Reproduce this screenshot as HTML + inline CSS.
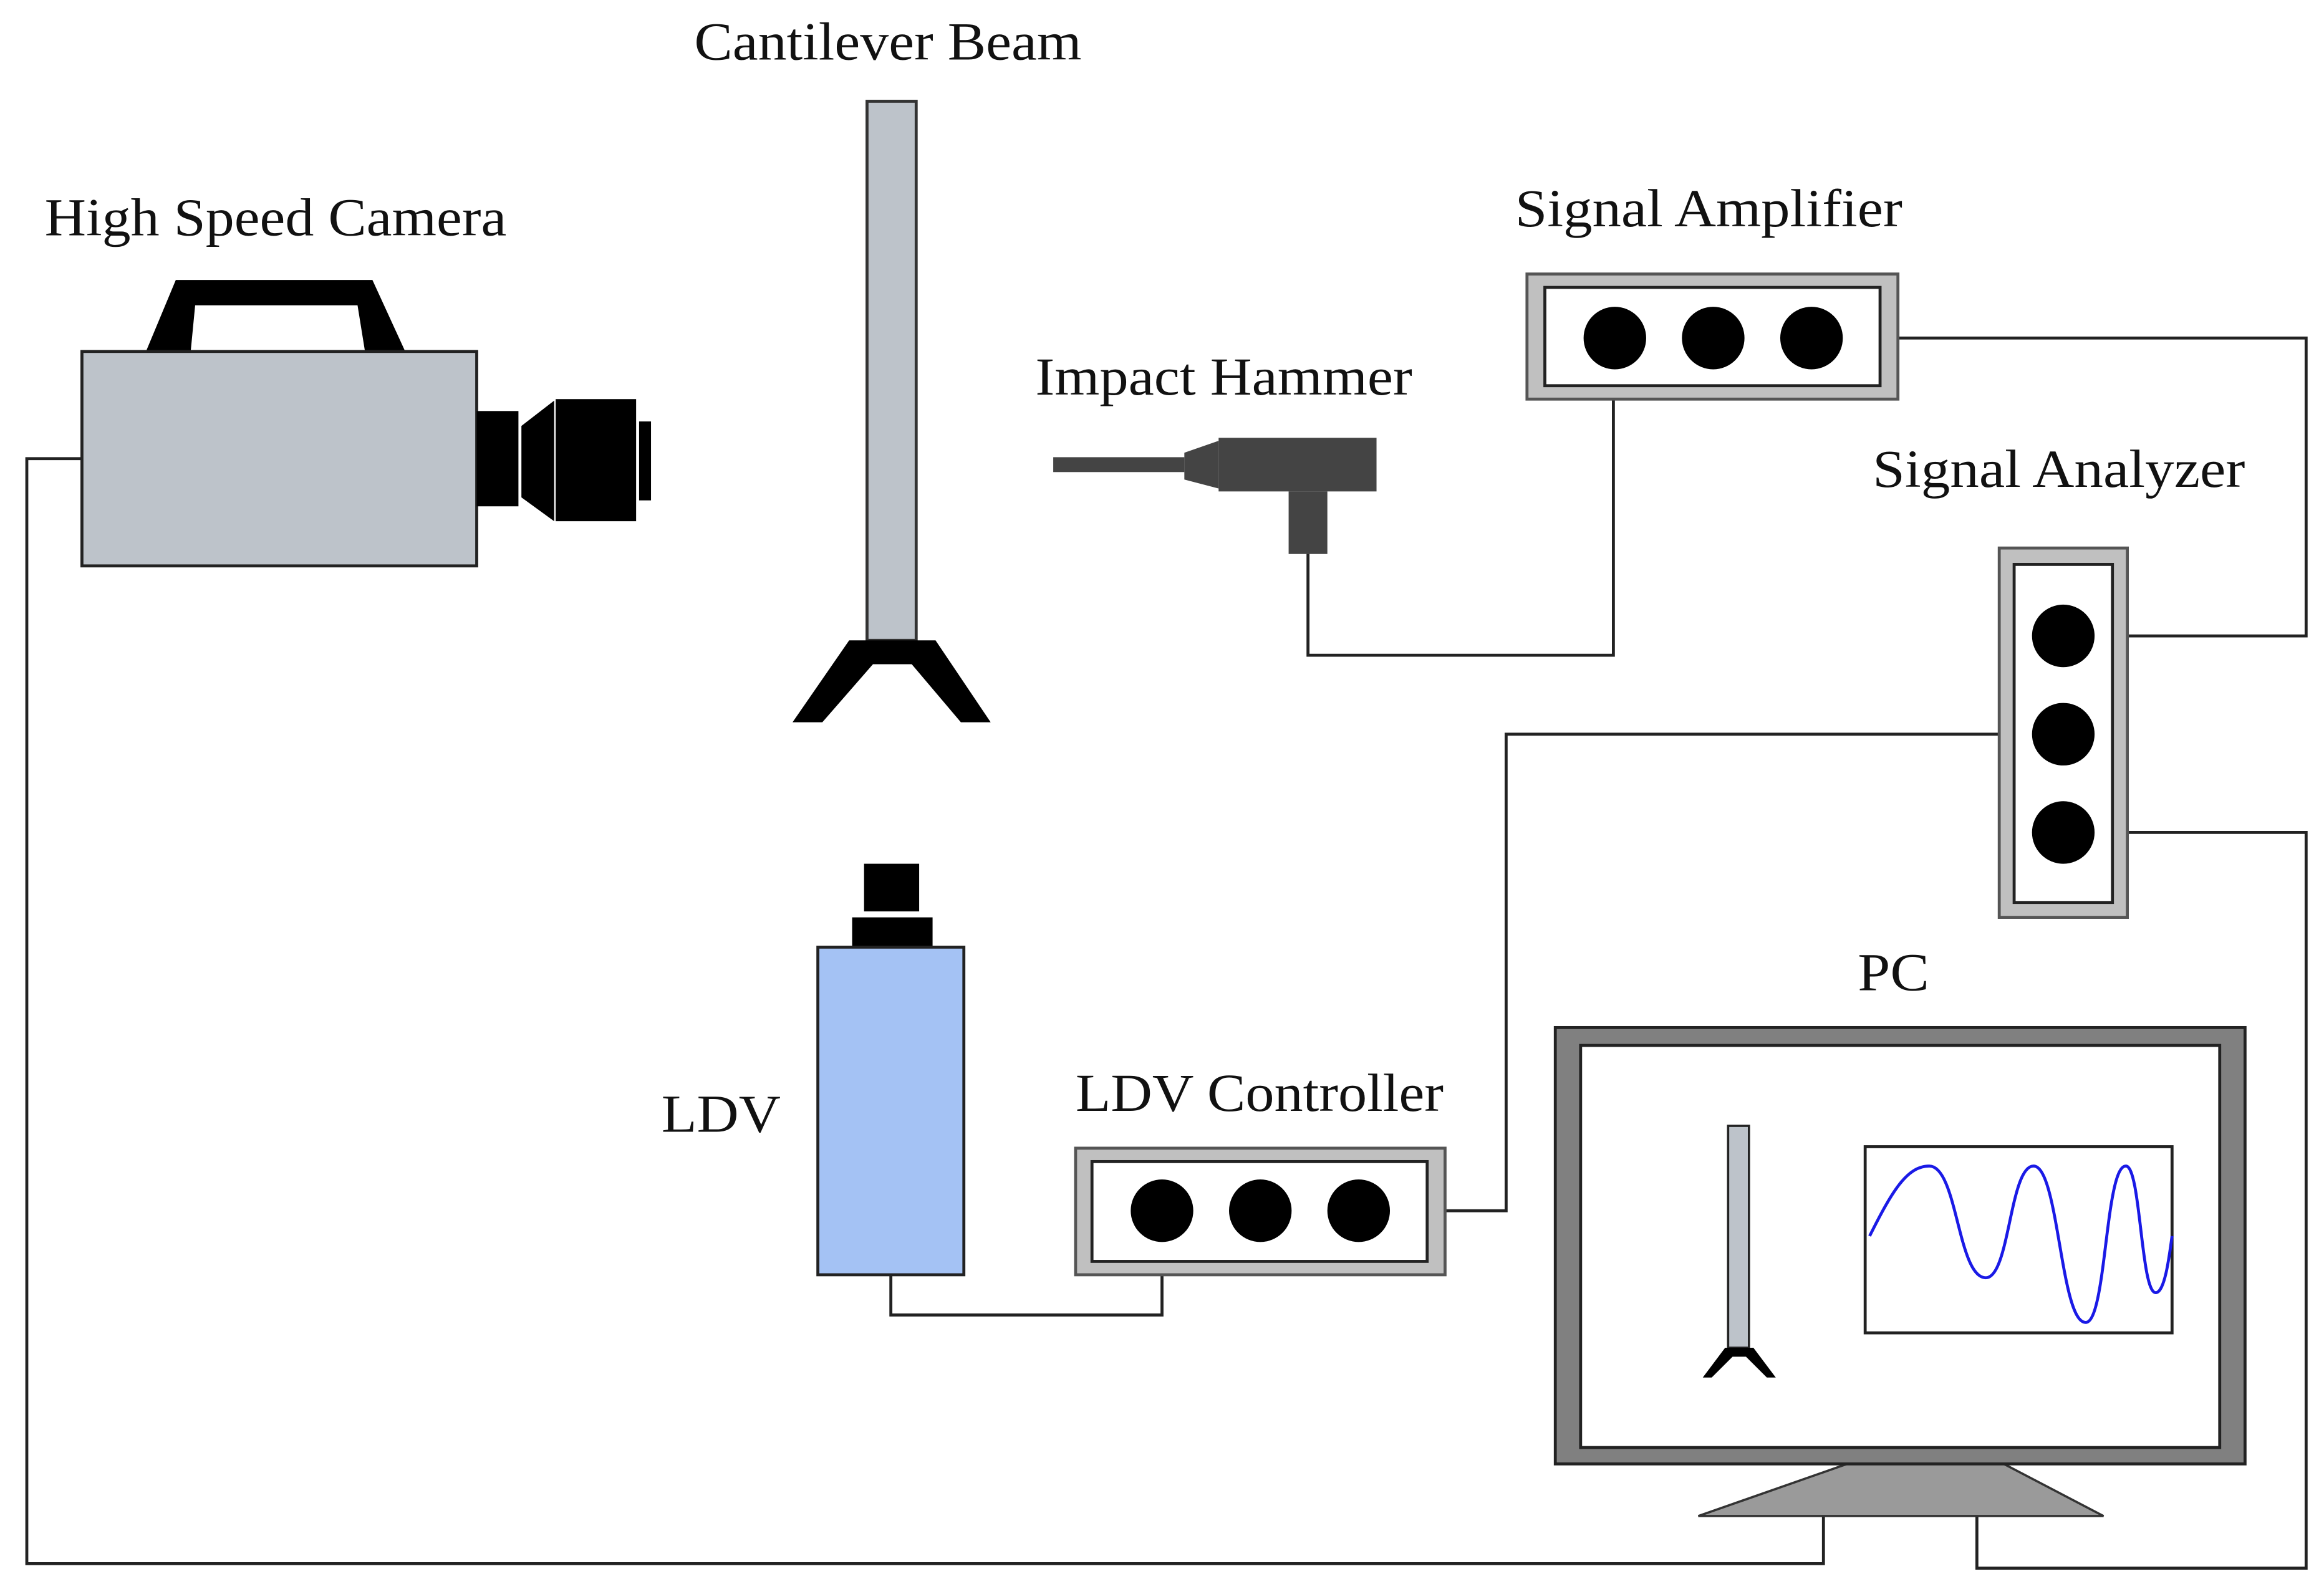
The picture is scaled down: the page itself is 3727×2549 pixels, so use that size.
<!DOCTYPE html>
<html><head><meta charset="utf-8"><style>
html,body{margin:0;padding:0;background:#fff;}
svg{display:block;}
text{font-family:"Liberation Serif",serif;font-size:36px;fill:#111;}
</style></head><body>
<svg width="3727" height="2549" viewBox="0 0 1560 1067" preserveAspectRatio="none" xmlns="http://www.w3.org/2000/svg">
<rect width="1560" height="1067" fill="#fff"/>
<g fill="none" stroke="#222" stroke-width="2">
<polyline points="55,308 18,308 18,1050 1224,1050 1224,1018"/>
<polyline points="878,372 878,440 1083,440 1083,228"/>
<polyline points="1216,227 1548,227 1548,427 1385,427"/>
<polyline points="1385,493 1011,493 1011,813 912,813"/>
<polyline points="1385,559 1548,559 1548,1053 1327,1053 1327,1018"/>
<polyline points="598,856 598,883 780,883 780,813"/>
</g>
<text x="466" y="40" textLength="260" lengthAdjust="spacingAndGlyphs">Cantilever Beam</text>
<text x="30" y="158" textLength="310" lengthAdjust="spacingAndGlyphs">High Speed Camera</text>
<text x="695" y="265" textLength="253" lengthAdjust="spacingAndGlyphs">Impact Hammer</text>
<text x="1017" y="152" textLength="260" lengthAdjust="spacingAndGlyphs">Signal Amplifier</text>
<text x="1257" y="327" textLength="250" lengthAdjust="spacingAndGlyphs">Signal Analyzer</text>
<text x="1247" y="665" textLength="48" lengthAdjust="spacingAndGlyphs">PC</text>
<text x="444" y="760" textLength="80" lengthAdjust="spacingAndGlyphs">LDV</text>
<text x="722" y="746" textLength="247" lengthAdjust="spacingAndGlyphs">LDV Controller</text>
<!-- beam -->
<rect x="582" y="68" width="33" height="362" fill="#bdc3ca" stroke="#333" stroke-width="2"/>
<polygon points="532,485 570,430 628,430 665,485 645,485 612,446 586,446 552,485" fill="#000"/>
<!-- camera -->
<path d="M98,236 L118,188 L250,188 L272,236 L245,236 L240,205 L131,205 L128,236 Z" fill="#000"/>
<rect x="55" y="236" width="265" height="144" fill="#bdc3ca" stroke="#222" stroke-width="2"/>
<rect x="320" y="276" width="28" height="64" fill="#000"/>
<polygon points="350,286 372,269 372,350 350,334" fill="#000"/>
<rect x="373" y="268" width="54" height="82" fill="#000"/>
<rect x="429" y="283" width="8" height="53" fill="#000"/>
<!-- hammer -->
<rect x="707" y="307" width="88" height="10" fill="#444"/>
<polygon points="795,304 818,296 818,328 795,322" fill="#444"/>
<rect x="818" y="294" width="106" height="36" fill="#444"/>
<rect x="865" y="330" width="26" height="42" fill="#444"/>
<!-- amplifier -->
<rect x="1025" y="184" width="249" height="84" fill="#c0c0c0" stroke="#555" stroke-width="2"/>
<rect x="1037" y="193" width="225" height="66" fill="#fff" stroke="#222" stroke-width="2"/>
<circle cx="1084" cy="227" r="21"/><circle cx="1150" cy="227" r="21"/><circle cx="1216" cy="227" r="21"/>
<!-- analyzer -->
<rect x="1342" y="368" width="86" height="248" fill="#c0c0c0" stroke="#555" stroke-width="2"/>
<rect x="1352" y="379" width="66" height="227" fill="#fff" stroke="#222" stroke-width="2"/>
<circle cx="1385" cy="427" r="21"/><circle cx="1385" cy="493" r="21"/><circle cx="1385" cy="559" r="21"/>
<!-- LDV -->
<rect x="580" y="580" width="37" height="32" fill="#000"/>
<rect x="572" y="616" width="54" height="20" fill="#000"/>
<rect x="549" y="636" width="98" height="220" fill="#a4c2f4" stroke="#222" stroke-width="2"/>
<!-- LDV controller -->
<rect x="722" y="771" width="248" height="85" fill="#c0c0c0" stroke="#555" stroke-width="2"/>
<rect x="733" y="780" width="225" height="67" fill="#fff" stroke="#222" stroke-width="2"/>
<circle cx="780" cy="813" r="21"/><circle cx="846" cy="813" r="21"/><circle cx="912" cy="813" r="21"/>
<!-- PC -->
<polygon points="1240,983 1345,983 1412,1018 1140,1018" fill="#9a9a9a" stroke="#333" stroke-width="1.5"/>
<rect x="1044" y="690" width="463" height="293" fill="#808080" stroke="#222" stroke-width="2"/>
<rect x="1061" y="702" width="429" height="270" fill="#fff" stroke="#222" stroke-width="2"/>
<rect x="1160" y="756" width="14" height="149" fill="#bdc3ca" stroke="#222" stroke-width="1.5"/>
<polygon points="1143,925 1158,905 1177,905 1192,925 1186,925 1172,911 1163,911 1149,925" fill="#000"/>
<rect x="1252" y="770" width="206" height="125" fill="#fff" stroke="#222" stroke-width="2"/>
<path d="M1255,830 C1270,800 1280,783 1295,783 C1314,783 1314,858 1333,858 C1349,858 1349,783 1365,783 C1382,783 1383,888 1400,888 C1414,888 1413,783 1427,783 C1437,783 1437,868 1447,868 C1453,868 1456,845 1458,830" fill="none" stroke="#1a1ae6" stroke-width="2"/>
</svg>
</body></html>
